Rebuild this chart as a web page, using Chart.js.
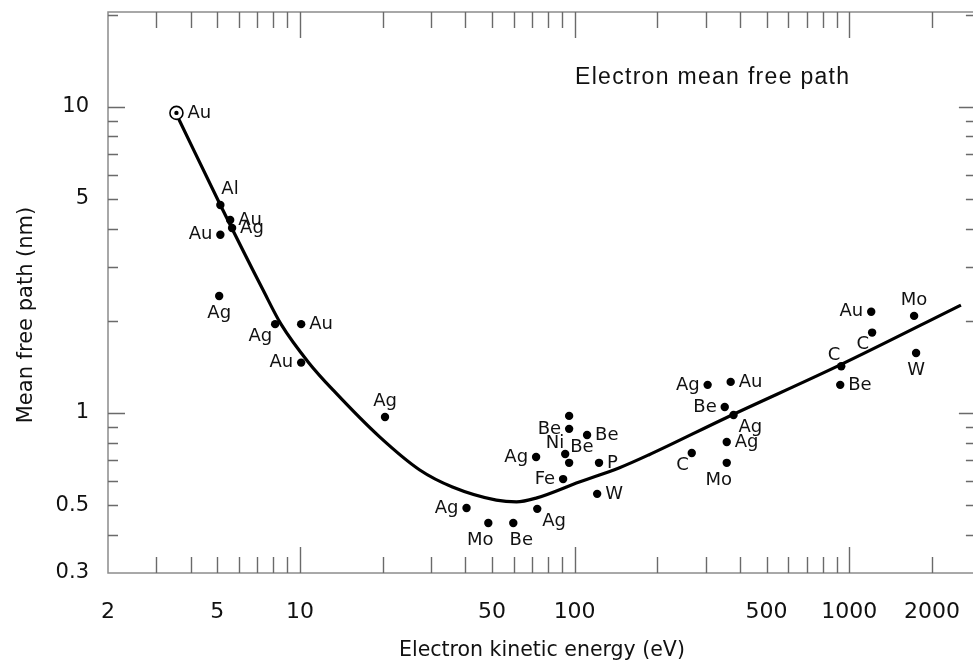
<!DOCTYPE html>
<html>
<head>
<meta charset="utf-8">
<script src="https://cdn.jsdelivr.net/npm/chart.js@4/dist/chart.umd.min.js"></script>
<style>
  html, body { margin: 0; padding: 0; background: #fff; overflow: hidden; width: 973px; height: 668px; }
  #wrap { position: relative; width: 984px; height: 668px; }
</style>
</head>
<body>
<div id="wrap"><canvas id="chart" width="984" height="668"></canvas></div>
<script>
// Measured inelastic mean free paths: kinetic energy (eV), path (nm), element
const energies = [5.13, 5.57, 5.66, 5.13, 5.08, 8.12, 10.1, 10.1, 20.4,
  40.4, 48.5, 59.8, 73.1, 72.4, 95.5, 95.5, 111, 92.4, 95.5, 122.7, 90.8, 120.8,
  305, 370, 352, 379, 358, 267, 358,
  1202, 1211, 935, 927, 1722, 1751];
const paths = [4.78, 4.27, 4.02, 3.82, 2.41, 1.95, 1.95, 1.46, 0.97,
  0.489, 0.437, 0.437, 0.486, 0.718, 0.978, 0.887, 0.847, 0.734, 0.687, 0.687, 0.608, 0.544,
  1.235, 1.263, 1.046, 0.985, 0.804, 0.740, 0.687,
  2.14, 1.83, 1.42, 1.235, 2.075, 1.57];
const elements = ['Al', 'Au', 'Ag', 'Au', 'Ag', 'Ag', 'Au', 'Au', 'Ag',
  'Ag', 'Mo', 'Be', 'Ag', 'Ag', '', 'Be', 'Be', 'Ni', 'Be', 'P', 'Fe', 'W',
  'Ag', 'Au', 'Be', 'Ag', 'Ag', 'C', 'Mo',
  'Au', 'C', 'C', 'Be', 'Mo', 'W'];

// Circled gold point at the low-energy end
const refEnergy = [3.55];
const refPath = [9.55];
const refElement = ['Au'];

// Universal curve through the measurements
const curveEnergy = [3.55, 5.13, 7.34, 8.53, 10.78, 13.4, 19.5, 27.3, 35.9, 51.9, 61.4, 72.4,
  104, 145, 186, 355, 927, 2550];
const curvePath = [9.45, 4.78, 2.52, 1.95, 1.457, 1.171, 0.835, 0.651, 0.573, 0.519, 0.512, 0.527,
  0.595, 0.661, 0.729, 0.963, 1.435, 2.25];

// Labelled ticks
const xTickValues = [2, 5, 10, 50, 100, 500, 1000, 2000];
const yTickValues = [0.3, 0.5, 1, 5, 10];

// Which side of its dot each element name sits on
const labelSide = ['tr', 'r', 'r', 'l', 'b', 'bl', 'r', 'l', 't',
  'l', 'bw', 'be', 'br', 'l', 'r', 'l', 'r', 'tl', 'tr', 'r', 'l', 'r',
  'l', 'r', 'l', 'br', 'r', 'bl', 'bw',
  'l', 'bl', 'tl', 'r', 't', 'b'];

const X_MIN = 2, X_MAX = 2891, Y_MIN = 0.3, Y_MAX = 20.4;
const TEXT = '#111';
const SANS = '"DejaVu Sans", Verdana, sans-serif';

function placeLabel(ctx, text, px, py, side) {
  const d = 8, v = 16;
  let x = px, y = py, align = 'center';
  switch (side) {
    case 'r': x = px + d; align = 'left'; break;
    case 'l': x = px - d; align = 'right'; break;
    case 't': y = py - v; break;
    case 'b': y = py + v + 1; break;
    case 'bw': x = px - 8; y = py + v + 1; break;
    case 'be': x = px + 8; y = py + v + 1; break;
    case 'tr': x = px + 1; y = py - v; align = 'left'; break;
    case 'tl': x = px - 1; y = py - v + 5; align = 'right'; break;
    case 'br': x = px + 5; y = py + 12; align = 'left'; break;
    case 'bl': x = px - 3; y = py + 12; align = 'right'; break;
  }
  ctx.textAlign = align;
  ctx.fillText(text, x, y);
}

const decorations = {
  id: 'decorations',
  afterDatasetsDraw(chart) {
    const { ctx, chartArea: a, scales: { x, y } } = chart;
    ctx.save();

    // frame
    ctx.strokeStyle = '#8c8c8c';
    ctx.lineWidth = 1.5;
    ctx.strokeRect(a.left, a.top, a.right - a.left, a.bottom - a.top);

    // inward log ticks on all four sides
    ctx.strokeStyle = '#6a6a6a';
    ctx.lineWidth = 1.4;
    ctx.beginPath();
    for (let d = 1; d <= 1000; d *= 10) {
      for (let k = 1; k <= 9; k++) {
        const v = k * d;
        if (v <= X_MIN || v >= X_MAX) continue;
        const px = Math.round(x.getPixelForValue(v)) + 0.5;
        const len = k === 1 ? 26 : 16;
        ctx.moveTo(px, a.bottom); ctx.lineTo(px, a.bottom - len);
        ctx.moveTo(px, a.top); ctx.lineTo(px, a.top + len);
      }
    }
    for (let d = 0.1; d <= 10.001; d *= 10) {
      for (let k = 1; k <= 9; k++) {
        const v = +(k * d).toFixed(3);
        if (v <= Y_MIN || v >= Y_MAX) continue;
        const py = Math.round(y.getPixelForValue(v)) + 0.5;
        const len = k === 1 ? 17 : 10;
        ctx.moveTo(a.left, py); ctx.lineTo(a.left + len, py);
        ctx.moveTo(a.right, py); ctx.lineTo(a.right - len, py);
      }
    }
    ctx.stroke();

    // element names beside the dots
    ctx.fillStyle = TEXT;
    ctx.font = '18px ' + SANS;
    ctx.textBaseline = 'middle';
    energies.forEach((e, i) => {
      if (!elements[i]) return;
      placeLabel(ctx, elements[i], x.getPixelForValue(e), y.getPixelForValue(paths[i]), labelSide[i]);
    });
    refEnergy.forEach((e, i) => {
      placeLabel(ctx, refElement[i], x.getPixelForValue(e) + 3, y.getPixelForValue(refPath[i]), 'r');
    });

    // y axis title, rotated
    ctx.save();
    ctx.translate(27, 315);
    ctx.rotate(-Math.PI / 2);
    ctx.textAlign = 'center';
    ctx.font = '21px ' + SANS;
    ctx.fillText('Mean free path (nm)', 0, 0);
    ctx.restore();

    // panel title
    ctx.font = '23px "Liberation Sans", Arial, sans-serif';
    ctx.letterSpacing = '1.3px';
    ctx.textAlign = 'left';
    ctx.textBaseline = 'middle';
    ctx.fillText('Electron mean free path', a.left + 467, a.top + 66);
    ctx.restore();
  }
};

new Chart(document.getElementById('chart'), {
  type: 'scatter',
  data: {
    datasets: [
      {
        type: 'line',
        data: curveEnergy.map((e, i) => ({ x: e, y: curvePath[i] })),
        borderColor: '#000',
        borderWidth: 3.2,
        pointRadius: 0,
        fill: false,
        cubicInterpolationMode: 'monotone',
        order: 3
      },
      {
        data: energies.map((e, i) => ({ x: e, y: paths[i] })),
        backgroundColor: '#000',
        borderWidth: 0,
        pointRadius: 4.2,
        order: 2
      },
      {
        data: refEnergy.map((e, i) => ({ x: e, y: refPath[i] })),
        backgroundColor: '#fff',
        borderColor: '#000',
        borderWidth: 1.6,
        pointRadius: 6.5,
        order: 1
      },
      {
        data: refEnergy.map((e, i) => ({ x: e, y: refPath[i] })),
        backgroundColor: '#000',
        borderWidth: 0,
        pointRadius: 2.2,
        order: 0
      }
    ]
  },
  options: {
    responsive: false,
    animation: false,
    devicePixelRatio: 1,
    layout: { padding: { left: 0, right: 6, top: 12, bottom: 0 } },
    plugins: { legend: { display: false }, tooltip: { enabled: false } },
    scales: {
      x: {
        type: 'logarithmic',
        min: X_MIN, max: X_MAX,
        grid: { display: false },
        border: { display: false },
        afterBuildTicks: s => { s.ticks = xTickValues.map(v => ({ value: v })); },
        afterFit: s => { s.height = 95; s.paddingLeft = 0; s.paddingRight = 0; },
        ticks: {
          autoSkip: false, maxRotation: 0, padding: 18,
          color: TEXT, font: { family: SANS, size: 22 },
          callback: v => String(v)
        },
        title: {
          display: true, text: 'Electron kinetic energy (eV)',
          color: TEXT, font: { family: SANS, size: 20.5 },
          padding: { top: 0, bottom: 5 }
        }
      },
      y: {
        type: 'logarithmic',
        min: Y_MIN, max: Y_MAX,
        grid: { display: false },
        border: { display: false },
        afterBuildTicks: s => { s.ticks = yTickValues.map(v => ({ value: v })); },
        afterFit: s => { s.width = 108; s.paddingTop = 0; s.paddingBottom = 0; },
        ticks: {
          autoSkip: false, padding: 11,
          color: TEXT, font: { family: SANS, size: 21 },
          callback: v => String(v)
        }
      }
    }
  },
  plugins: [decorations]
});
</script>
</body>
</html>
